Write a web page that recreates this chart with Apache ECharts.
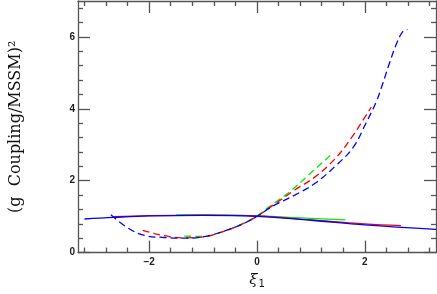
<!DOCTYPE html>
<html>
<head>
<meta charset="utf-8">
<script src="https://cdn.jsdelivr.net/npm/echarts@6/dist/echarts.min.js"></script>
<style>
html,body{margin:0;padding:0;background:#fff;}
#chart{width:437px;height:294px;}
</style>
</head>
<body>
<div id="chart"></div>
<script>
// Tick values
var xMajorTicks = [-2, 0, 2];
var xMinorTicks = [-3.2, -2.8, -2.4, -1.6, -1.2, -0.8, -0.4, 0.4, 0.8, 1.2, 1.6, 2.4, 2.8, 3.2];
var yMajorTicks = [0, 2, 4, 6];
var yMinorTicks = [0.4, 0.8, 1.2, 1.6, 2.4, 2.8, 3.2, 3.6, 4.4, 4.8, 5.2, 5.6, 6.4, 6.8];

// Solid curves
var blueSolidX = [-3.2, -2.66, -2, -1, 0, 1, 2, 3.32];
var blueSolidY = [0.935, 0.98, 1.02, 1.035, 1.01, 0.9, 0.77, 0.645];
var redSolidX = [-2.66, -2, -1, 0, 1, 2, 2.67];
var redSolidY = [1.0, 1.03, 1.045, 1.02, 0.91, 0.8, 0.75];
var greenSolidX = [-1.5, -1, 0, 1, 1.64];
var greenSolidY = [1.05, 1.05, 1.02, 0.95, 0.91];

// Dashed curves
var blueDashX = [-2.71, -2.4, -2.09, -1.72, -1.41, -0.98, -0.61, -0.245, 0, 0.3, 0.7, 1.07, 1.44, 1.78, 2.02, 2.21, 2.33, 2.45, 2.58, 2.7, 2.79];
var blueDashY = [1.055, 0.69, 0.48, 0.42, 0.4, 0.445, 0.6, 0.81, 1.01, 1.3, 1.6, 1.92, 2.39, 2.92, 3.6, 4.19, 4.69, 5.24, 5.78, 6.14, 6.21];
var redDashX = [-2.12, -1.9, -1.72, -1.4, -1.0, -0.6, -0.25, 0, 0.3, 0.7, 1.07, 1.44, 1.75, 1.99, 2.12];
var redDashY = [0.62, 0.53, 0.47, 0.41, 0.44, 0.6, 0.81, 1.01, 1.32, 1.74, 2.1, 2.6, 3.19, 3.74, 4.05];
var greenDashX = [-1.35, -1.0, -0.6, -0.25, 0, 0.21, 0.58, 0.95, 1.4];
var greenDashY = [0.46, 0.45, 0.6, 0.82, 1.02, 1.26, 1.66, 2.15, 2.76];

function pairs(xs, ys) { return xs.map(function (x, i) { return [x, ys[i]]; }); }

var axisColor = '#555';
var xMin = -3.32, xMax = 3.32, yMin = 0, yMax = 7;

function xAx(pos, ticks, len, showLine, showLabel, extra) {
  var a = {
    type: 'value', position: pos, min: xMin, max: xMax,
    axisLine: { show: showLine, onZero: false, lineStyle: { color: axisColor, width: 1.3 } },
    axisTick: { show: true, inside: true, length: len, customValues: ticks, lineStyle: { color: axisColor, width: 1.3 } },
    axisLabel: { show: showLabel },
    splitLine: { show: false }
  };
  if (showLabel) {
    a.axisLabel = {
      show: true, customValues: ticks, margin: 5,
      fontFamily: 'Liberation Sans', fontWeight: 'bold', fontSize: 10, color: '#222',
      formatter: function (v) { return String(v).replace('-', '\u2212'); }
    };
  }
  if (extra) Object.assign(a, extra);
  return a;
}
function yAx(pos, ticks, len, showLine, showLabel, extra) {
  var a = {
    type: 'value', position: pos, min: yMin, max: yMax,
    axisLine: { show: showLine, onZero: false, lineStyle: { color: axisColor, width: 1.3 } },
    axisTick: { show: true, inside: true, length: len, customValues: ticks, lineStyle: { color: axisColor, width: 1.3 } },
    axisLabel: { show: showLabel },
    splitLine: { show: false }
  };
  if (showLabel) {
    a.axisLabel = {
      show: true, customValues: ticks, margin: 3,
      fontFamily: 'Liberation Sans', fontWeight: 'bold', fontSize: 10, color: '#222'
    };
  }
  if (extra) Object.assign(a, extra);
  return a;
}

var chart = echarts.init(document.getElementById('chart'), null, { renderer: 'canvas' });

function line(name, xs, ys, color, dashed) {
  return {
    name: name, type: 'line', xAxisIndex: 0, yAxisIndex: 0,
    data: pairs(xs, ys), smooth: 0.4, showSymbol: false, symbol: 'none',
    lineStyle: { color: color, width: 1.3, type: dashed ? [7, 4] : 'solid' },
    z: 3
  };
}

chart.setOption({
  animation: false,
  backgroundColor: '#fff',
  grid: { left: 77, right: 1, top: 1, bottom: 37 },
  xAxis: [
    xAx('bottom', xMajorTicks, 12, true, true, {
      name: '{a|\u03be}{b|1}', nameLocation: 'middle', nameGap: 17,
      nameTextStyle: {
        rich: {
          a: { fontFamily: 'DejaVu Serif', fontStyle: 'italic', fontSize: 15, color: '#111' },
          b: { fontFamily: 'DejaVu Sans', fontSize: 10, color: '#111', padding: [8, 0, 0, 1] }
        }
      }
    }),
    xAx('bottom', xMinorTicks, 5, false, false),
    xAx('top', xMajorTicks, 12, true, false),
    xAx('top', xMinorTicks, 5, false, false)
  ],
  yAxis: [
    yAx('left', yMajorTicks, 12, true, true, {
      name: '(g  Coupling/MSSM)\u00b2', nameLocation: 'middle', nameGap: 54, nameRotate: 90,
      nameTextStyle: { fontFamily: 'DejaVu Serif', fontSize: 16, color: '#111' }
    }),
    yAx('left', yMinorTicks, 5, false, false),
    yAx('right', yMajorTicks, 12, true, false),
    yAx('right', yMinorTicks, 5, false, false)
  ],
  series: [
    line('green solid', greenSolidX, greenSolidY, '#00ee00', false),
    line('red solid', redSolidX, redSolidY, '#ff0000', false),
    line('blue solid', blueSolidX, blueSolidY, '#0000ff', false),
    line('green dashed', greenDashX, greenDashY, '#00ee00', true),
    line('red dashed', redDashX, redDashY, '#ff0000', true),
    line('blue dashed', blueDashX, blueDashY, '#0000ff', true)
  ]
});
</script>
</body>
</html>
